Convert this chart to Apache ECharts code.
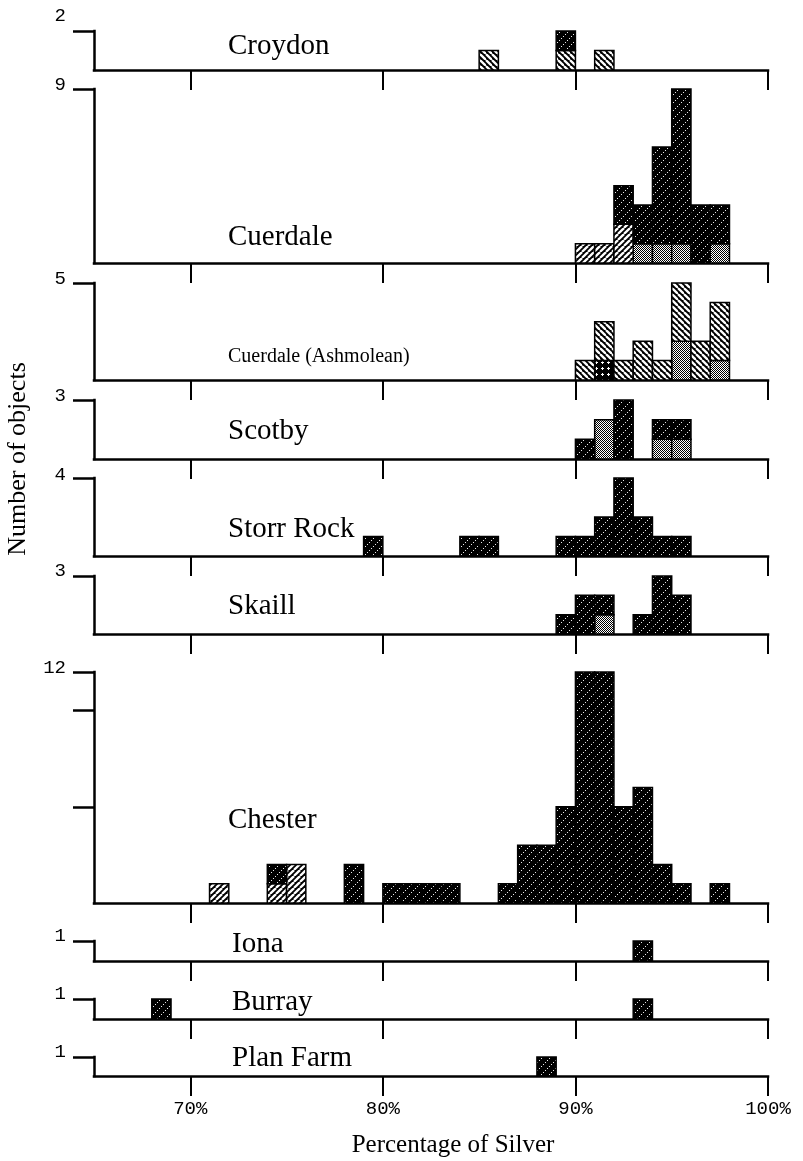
<!DOCTYPE html>
<html>
<head>
<meta charset="utf-8">
<script src="https://cdn.jsdelivr.net/npm/echarts@6/dist/echarts.min.js"></script>
<style>html,body{margin:0;padding:0;background:#fff}#c{width:803px;height:1161px}</style>
</head>
<body>
<div id="c"></div>
<script>
// ---------------- DATA ----------------
// Panels (hoards), top to bottom
const hoards = ['Croydon', 'Cuerdale', 'Cuerdale (Ashmolean)', 'Scotby', 'Storr Rock', 'Skaill', 'Chester', 'Iona', 'Burray', 'Plan Farm'];
// maximum of each panel's count axis
const yMax = [2, 9, 5, 3, 4, 3, 12, 1, 1, 1];
// extra count ticks (Chester only)
const chesterYTicks = [5, 10, 12];
// x axis (% silver)
const xMin = 65, xMax = 100;
const xTickValues = [70, 80, 90, 100];

// Each entry: [lower edge of 1% bin, number of objects]
const croydonHatchB = [[85, 1], [89, 1], [91, 1]];
const croydonDark   = [[89, 1]];

const cuerdaleHatchF = [[90, 1], [91, 1], [92, 2]];
const cuerdaleGrey   = [[93, 1], [94, 1], [95, 1], [97, 1]];
const cuerdaleDark   = [[92, 2], [93, 2], [94, 5], [95, 8], [96, 3], [97, 2]];

const ashCross  = [[91, 1]];
const ashGrey   = [[95, 2], [97, 1]];
const ashHatchB = [[90, 1], [91, 2], [92, 1], [93, 2], [94, 1], [95, 3], [96, 2], [97, 3]];

const scotbyGrey = [[91, 2], [94, 1], [95, 1]];
const scotbyDark = [[90, 1], [92, 3], [94, 1], [95, 1]];

const storrDark = [[79, 1], [84, 1], [85, 1], [89, 1], [90, 1], [91, 2], [92, 4], [93, 2], [94, 1], [95, 1]];

const skaillGrey = [[91, 1]];
const skaillDark = [[89, 1], [90, 2], [91, 1], [93, 1], [94, 3], [95, 2]];

const chesterHatchF = [[71, 1], [74, 1], [75, 2]];
const chesterDark   = [[74, 1], [78, 2], [80, 1], [81, 1], [82, 1], [83, 1], [86, 1], [87, 3], [88, 3], [89, 5],
                       [90, 12], [91, 12], [92, 5], [93, 6], [94, 2], [95, 1], [97, 1]];

const ionaDark     = [[93, 1]];
const burrayDark   = [[68, 1], [93, 1]];
const planFarmDark = [[88, 1]];

// stacking order bottom -> top: cross, grey, hatchF (/), hatchB (\), dark
const panelData = [
  {hatchB: croydonHatchB, dark: croydonDark},
  {hatchF: cuerdaleHatchF, grey: cuerdaleGrey, dark: cuerdaleDark},
  {cross: ashCross, grey: ashGrey, hatchB: ashHatchB},
  {grey: scotbyGrey, dark: scotbyDark},
  {dark: storrDark},
  {grey: skaillGrey, dark: skaillDark},
  {hatchF: chesterHatchF, dark: chesterDark},
  {dark: ionaDark},
  {dark: burrayDark},
  {dark: planFarmDark}
];
const stackOrder = ['cross', 'grey', 'hatchF', 'hatchB', 'dark'];

// ---------------- LAYOUT / STYLE ----------------
const gridTop    = [31, 89, 283, 400, 478, 576, 672, 941, 999, 1057];
const gridBottom = [70, 263, 380, 459, 556, 634, 903, 961, 1019, 1076];
const titleTop   = [32, 223, 347, 417, 515, 592, 806, 930, 988, 1044];
const titleLeft  = [228, 228, 228, 228, 228, 228, 228, 232, 232, 232];
const labelLift  = [15, 4, 4, 4, 3, 5, 4, 5, 5, 5];

function makePattern(kind) {
  const c = document.createElement('canvas');
  let s = 6;
  if (kind === 'dark') s = 8;
  if (kind === 'grey') s = 2;
  c.width = s; c.height = s;
  const g = c.getContext('2d');
  if (kind === 'grey') {
    g.fillStyle = '#fff'; g.fillRect(0, 0, 2, 2);
    g.fillStyle = '#000'; g.fillRect(0, 0, 1, 1); g.fillRect(1, 1, 1, 1);
  } else {
    g.fillStyle = '#000'; g.fillRect(0, 0, s, s);
    g.fillStyle = '#fff'; g.strokeStyle = '#fff';
    if (kind === 'dark') {
      g.fillStyle = '#e8e8e8';
      g.fillRect(7, 0, 1, 1); g.fillRect(5, 2, 1, 1); g.fillRect(3, 4, 1, 1); g.fillRect(1, 6, 1, 1);
    } else if (kind === 'hatchF') {
      g.lineWidth = 2.3;
      for (const o of [-6, 0, 6]) { g.beginPath(); g.moveTo(o, 6); g.lineTo(o + 6, 0); g.stroke(); }
    } else if (kind === 'hatchB') {
      g.lineWidth = 2.3;
      for (const o of [-6, 0, 6]) { g.beginPath(); g.moveTo(o, 0); g.lineTo(o + 6, 6); g.stroke(); }
    } else if (kind === 'cross') {
      g.fillRect(2, 1, 1, 3); g.fillRect(1, 2, 3, 1);
    }
  }
  return {image: c, repeat: 'repeat'};
}
const patterns = stackOrder.map(makePattern);

function buildItems(pd) {
  const top = {};
  const items = [];
  stackOrder.forEach((k, ki) => {
    (pd[k] || []).forEach(([bin, n]) => {
      const b = top[bin] || 0;
      items.push([bin, bin + 1, b, b + n, ki]);
      top[bin] = b + n;
    });
  });
  return items;
}

function renderItem(params, api) {
  const a = api.coord([api.value(0), api.value(3)]);
  const b = api.coord([api.value(1), api.value(2)]);
  return {
    type: 'rect',
    shape: {x: a[0], y: a[1], width: b[0] - a[0], height: b[1] - a[1]},
    style: {fill: patterns[api.value(4)], stroke: '#000', lineWidth: 1.5}
  };
}

const n = hoards.length;
const grids = [], xAxes = [], yAxes = [], series = [], titles = [];
for (let i = 0; i < n; i++) {
  grids.push({left: 94, right: 35, top: gridTop[i], height: gridBottom[i] - gridTop[i], containLabel: false, outerBoundsMode: 'none'});
  xAxes.push({
    type: 'value', gridIndex: i, min: xMin, max: xMax,
    axisLine: {show: true, onZero: false, lineStyle: {color: '#000', width: 2.5, cap: 'square'}},
    axisTick: {show: true, customValues: xTickValues, length: 20, lineStyle: {color: '#000', width: 2}},
    axisLabel: {show: i === n - 1, customValues: xTickValues, formatter: '{value}%', margin: 23,
      fontFamily: 'Liberation Mono', fontSize: 19, color: '#000'},
    splitLine: {show: false}
  });
  const yt = i === 6 ? chesterYTicks : [yMax[i]];
  yAxes.push({
    type: 'value', gridIndex: i, min: 0, max: yMax[i],
    axisLine: {show: true, lineStyle: {color: '#000', width: 2.5, cap: 'square'}},
    axisTick: {show: true, customValues: yt, length: 21, lineStyle: {color: '#000', width: 2.5}},
    axisLabel: {show: true, customValues: [yMax[i]], margin: 28, fontFamily: 'Liberation Mono', fontSize: 19,
      color: '#000', verticalAlign: 'bottom', lineHeight: 2 * labelLift[i]},
    splitLine: {show: false}
  });
  series.push({
    type: 'custom', name: hoards[i], xAxisIndex: i, yAxisIndex: i,
    data: buildItems(panelData[i]), renderItem: renderItem, silent: true, clip: false,
    dimensions: ['x0', 'x1', 'y0', 'y1', 'kind'], encode: {x: [0, 1], y: [2, 3]}
  });
  titles.push({
    text: hoards[i], left: titleLeft[i], top: titleTop[i], padding: 0,
    textStyle: {fontFamily: 'Liberation Serif', fontSize: i === 2 ? 20 : 29, fontWeight: 'normal', color: '#000'}
  });
}

const chart = echarts.init(document.getElementById('c'), null, {renderer: 'canvas'});
chart.setOption({
  backgroundColor: '#fff',
  animation: false,
  title: titles,
  grid: grids,
  xAxis: xAxes,
  yAxis: yAxes,
  series: series,
  graphic: [
    {type: 'text', x: 18, y: 459, rotation: Math.PI / 2,
      style: {text: 'Number of objects', font: '26px "Liberation Serif"', fill: '#000',
        align: 'center', verticalAlign: 'middle', textAlign: 'center', textVerticalAlign: 'middle'}},
    {type: 'text', x: 453, y: 1145,
      style: {text: 'Percentage of Silver', font: '25px "Liberation Serif"', fill: '#000',
        align: 'center', verticalAlign: 'middle', textAlign: 'center', textVerticalAlign: 'middle'}}
  ]
});
</script>
</body>
</html>
